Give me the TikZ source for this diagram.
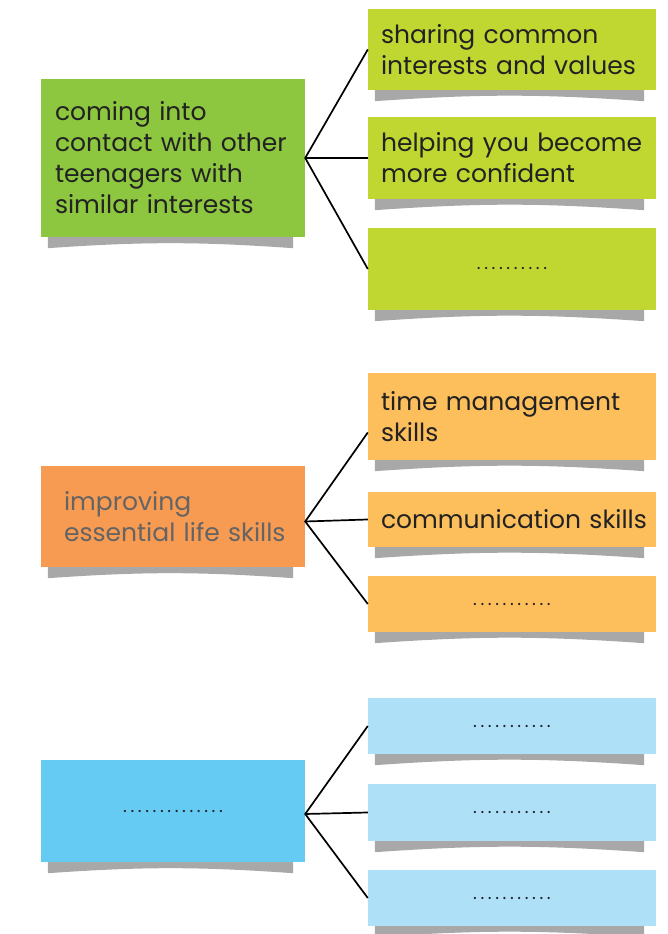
\documentclass[tikz,border=0pt]{standalone}
\usepackage{fontspec}
\setmainfont{Poppins}
\usetikzlibrary{positioning}
\definecolor{leafgreen}{HTML}{8DC63F}
\definecolor{limegreen}{HTML}{C0D732}
\definecolor{deeporange}{HTML}{F79A52}
\definecolor{paleorange}{HTML}{FDBE5C}
\definecolor{deepblue}{HTML}{66CBF2}
\definecolor{paleblue}{HTML}{AEE0F8}
\definecolor{shadowgray}{HTML}{A8A8A8}
\definecolor{inkgray}{HTML}{222222}

\tikzset{
  topic/.style={text width=236pt, inner xsep=14pt, inner ysep=0pt, align=left,
    font=\fontsize{25}{31}\selectfont, text=inkgray},
  idea/.style={text width=262pt, inner xsep=13pt, inner ysep=0pt, align=left,
    font=\fontsize{25}{31}\selectfont, text=inkgray},
  blank/.style={align=center, font=\fontsize{18}{18}\selectfont\addfontfeature{LetterSpace=20}},
  link/.style={line width=1.7pt, black},
}

\begin{document}
\begin{tikzpicture}[x=1pt, y=1pt]
      \useasboundingbox (0,0) rectangle (667,934);

      % First group: the green boxes
      \node[topic, fill=leafgreen, minimum height=158pt] (g) at (173,776)
        {coming into\\contact with other\\teenagers with\\similar interests};
      \node[idea, fill=limegreen, minimum height=81pt] (g1) at (512,884.5)
        {sharing common\\interests and values};
      \node[idea, fill=limegreen, minimum height=82pt] (g2) at (512,776)
        {\mbox{helping you become}\\more confident};
      \node[idea, fill=limegreen, minimum height=82pt, blank] (g3) at (512,665)
        {..........};

      % Second group: the orange boxes
      \node[topic, fill=deeporange, minimum height=101pt, text width=218pt,
        inner xsep=23pt, text=inkgray!70] (o) at (173,417.5)
        {improving\\\mbox{essential life skills}};
      \node[idea, fill=paleorange, minimum height=87pt] (o1) at (512,517.5)
        {time management\\skills};
      \node[idea, fill=paleorange, minimum height=55pt] (o2) at (512,414.5)
        {\mbox{communication skills}};
      \node[idea, fill=paleorange, minimum height=56pt, blank] (o3) at (512,330)
        {...........};

      % Third group: the blue boxes
      \node[topic, fill=deepblue, minimum height=102pt, blank] (b) at (173,123)
        {..............};
      \node[idea, fill=paleblue, minimum height=56pt, blank] (b1) at (512,208)
        {...........};
      \node[idea, fill=paleblue, minimum height=57pt, blank] (b2) at (512,121.5)
        {...........};
      \node[idea, fill=paleblue, minimum height=56pt, blank] (b3) at (512,36)
        {...........};

      % Curled shadows under every box
      \foreach \n in {g,g1,g2,g3,o,o1,o2,o3,b,b1,b2,b3}
        \fill[shadowgray] ([xshift=7pt]\n.south west) -- ++(0,-11)
          to[bend left=4] ([xshift=-12pt,yshift=-11pt]\n.south east)
          -- ([xshift=-12pt]\n.south east) -- cycle;

      % Connectors
      \draw[link] (g1.west) -- (g.east) -- (g3.west);
      \draw[link] (g.east) -- (g2.west);
      \draw[link] ([yshift=-16pt]o1.west) -- ([yshift=-5pt]o.east) -- (o3.west);
      \draw[link] ([yshift=-5pt]o.east) -- (o2.west);
      \draw[link] (b1.west) -- ([yshift=-3pt]b.east) -- (b3.west);
      \draw[link] ([yshift=-3pt]b.east) -- (b2.west);
\end{tikzpicture}
\end{document}
